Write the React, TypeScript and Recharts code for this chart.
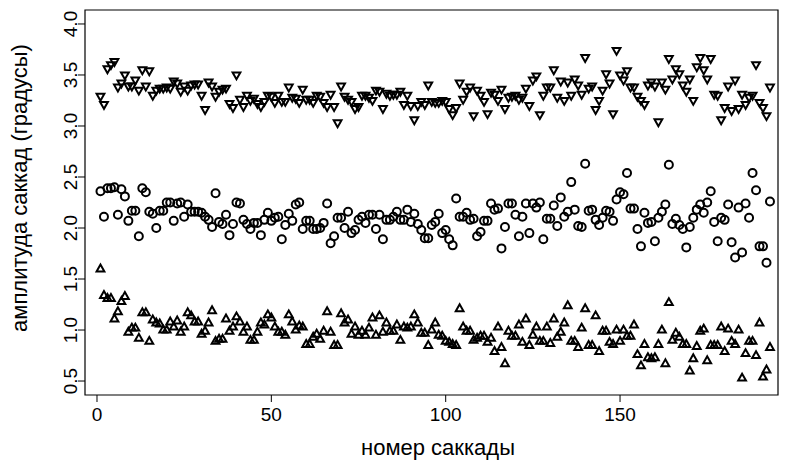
import React from 'react';
import { ScatterChart, Scatter, XAxis, YAxis, ReferenceArea, Label } from 'recharts';

// saccade amplitudes (degrees), one value per saccade number 1..193
const downTri = [
  3.29, 3.21, 3.56, 3.60, 3.63, 3.38, 3.42, 3.50, 3.39, 3.39,
  3.45, 3.35, 3.55, 3.39, 3.54, 3.30, 3.35, 3.37, 3.37, 3.38,
  3.37, 3.44, 3.42, 3.34, 3.39, 3.35, 3.40, 3.41, 3.41, 3.30,
  3.16, 3.43, 3.39, 3.29, 3.34, 3.36, 3.37, 3.22, 3.18, 3.50,
  3.26, 3.19, 3.30, 3.25, 3.27, 3.22, 3.19, 3.24,
  3.30, 3.29, 3.23, 3.30, 3.24, 3.24, 3.38, 3.28, 3.27, 3.23,
  3.36, 3.26, 3.26, 3.23, 3.30, 3.29, 3.23, 3.19, 3.31, 3.19,
  3.03, 3.39, 3.29, 3.26, 3.24, 3.17, 3.19, 3.30, 3.30, 3.28,
  3.25, 3.35, 3.34, 3.17, 3.32, 3.30, 3.31, 3.31, 3.34, 3.21,
  3.30, 3.20, 3.06, 3.20, 3.24, 3.21, 3.40, 3.24, 3.23,
  3.23, 3.25, 3.24, 3.17, 3.11, 3.18, 3.42, 3.26, 3.34, 3.38,
  3.10, 3.35, 3.30, 3.24, 3.12, 3.33, 3.31, 3.25, 3.36, 3.17,
  3.28, 3.29, 3.30, 3.26, 3.28, 3.37, 3.20, 3.45, 3.49, 3.11,
  3.30, 3.38, 3.38, 3.55, 3.28, 3.44, 3.25, 3.43, 3.30, 3.46,
  3.40, 3.31, 3.67, 3.37, 3.39, 3.16, 3.25, 3.35, 3.51, 3.42, 3.12, 3.74,
  3.50, 3.45, 3.54, 3.38, 3.38, 3.29, 3.25, 3.21, 3.40, 3.43,
  3.39, 3.04, 3.43, 3.36, 3.66, 3.46, 3.56, 3.51, 3.40, 3.34,
  3.46, 3.25, 3.58, 3.67, 3.55, 3.46, 3.66, 3.31, 3.30, 3.06,
  3.18, 3.39, 3.15, 3.45, 3.17, 3.31, 3.21, 3.28, 3.30, 3.60,
  3.23, 3.18, 3.10, 3.38,
];

const circles = [
  2.36, 2.11, 2.39, 2.39, 2.40, 2.13, 2.38, 2.31, 2.07, 2.17,
  2.17, 1.92, 2.39, 2.35, 2.16, 2.14, 2.00, 2.17, 2.17, 2.25,
  2.25, 2.07, 2.24, 2.25, 2.11, 2.23, 2.16, 2.16, 2.16, 2.15,
  2.11, 2.08, 2.01, 2.34, 2.06, 2.04, 2.13, 1.93, 2.04, 2.25,
  2.24, 2.08, 2.04, 1.99, 2.05, 2.05, 1.93, 2.08,
  2.15, 2.07, 2.10, 2.11, 1.89, 2.03, 2.14, 2.07, 2.23, 2.25,
  1.99, 2.07, 2.07, 1.99, 1.99, 2.00, 2.05, 2.24, 1.85, 1.92,
  2.10, 2.10, 2.00, 2.16, 1.95, 1.98, 2.08, 2.11, 2.05, 2.13,
  2.13, 1.99, 2.13, 1.89, 2.08, 2.08, 2.11, 2.16, 2.08, 2.08,
  2.18, 2.06, 2.14, 2.04, 1.98, 1.90, 1.90, 2.03, 2.06, 2.14,
  1.95, 1.98, 1.89, 1.83, 2.29, 2.11, 2.11, 2.15, 2.08, 2.09,
  1.92, 1.96, 2.07, 2.07, 2.24, 2.18, 2.19, 1.80, 2.01, 2.24,
  2.24, 2.13, 1.92, 2.11, 2.24, 1.95, 2.24, 2.20, 2.25, 1.89,
  2.09, 2.09, 2.22, 2.02, 2.30, 2.11, 2.16, 2.45, 2.18, 2.02,
  2.01, 2.63, 2.17, 2.18, 2.08, 2.03, 2.10, 2.17, 2.16, 2.07,
  2.28, 2.35, 2.33, 2.54, 2.19, 2.19, 1.99, 1.82, 2.15, 2.05,
  2.06, 1.87, 2.10, 2.16, 2.23, 2.62, 2.04, 2.09, 2.03, 1.99,
  1.81, 2.01, 2.10, 2.18, 2.23, 2.15, 2.25, 2.36, 2.06, 1.87,
  2.10, 2.08, 2.23, 1.86, 1.71, 2.20, 1.76, 2.24, 2.10, 2.54,
  2.37, 1.82, 1.82, 1.66, 2.26,
];

const upTri = [
  1.60, 1.34, 1.31, 1.31, 1.11, 1.18, 1.28, 1.33, 0.98, 1.02,
  1.02, 0.92, 1.17, 1.17, 0.89, 1.10, 1.07, 1.06, 1.00, 1.00,
  1.08, 1.03, 1.09, 0.98, 1.03, 1.17, 1.14, 1.08, 1.08, 0.96,
  0.99, 1.07, 1.19, 0.89, 0.91, 0.91, 1.11, 0.99, 1.03, 1.13,
  1.08, 0.98, 1.03, 0.90, 0.90, 0.98, 1.07, 1.05,
  1.15, 1.12, 1.03, 0.98, 0.98, 0.95, 1.15, 1.08, 1.00, 1.04,
  1.03, 0.86, 0.86, 0.93, 0.96, 0.91, 0.99, 1.18, 0.98, 0.85,
  0.85, 1.16, 1.07, 1.10, 0.96, 1.03, 0.95, 0.99, 0.95, 1.02,
  1.12, 0.95, 1.14, 0.98, 1.07, 0.99, 0.99, 1.05, 0.90, 1.03,
  1.02, 1.03, 1.15, 1.07, 0.97, 0.97, 0.85, 1.00, 1.07, 0.95,
  0.94, 0.89, 0.88, 0.86, 0.85, 1.21, 1.03, 0.99, 0.99, 0.90,
  0.92, 0.94, 0.94, 0.88, 0.92, 0.79, 1.03, 0.83, 0.67, 0.99,
  0.94, 0.94, 1.05, 0.88, 1.11, 0.85, 0.95, 1.03, 0.89, 0.89,
  1.03, 0.87, 1.11, 0.93, 0.98, 1.07, 1.24, 0.89, 0.89, 0.83,
  1.02, 1.21, 0.85, 0.85, 1.14, 0.79, 0.99, 0.99, 0.88, 0.86,
  1.00, 0.89, 1.00, 0.94, 0.94, 1.05, 0.76, 0.65, 0.86, 0.73,
  0.72, 0.73, 0.86, 1.00, 0.67, 1.27, 0.90, 0.97, 0.93, 0.86,
  0.86, 0.60, 0.72, 0.84, 0.99, 1.01, 0.70, 0.85, 0.85, 0.85,
  1.03, 0.79, 1.01, 0.89, 0.86, 1.00, 0.53, 0.77, 0.89, 0.89,
  0.75, 1.07, 0.54, 0.61, 0.83,
];

const xTicks = [0, 50, 100, 150];
const yTicks = [0.5, 1.0, 1.5, 2.0, 2.5, 3.0, 3.5, 4.0];

const X_DOMAIN: [number, number] = [-3.44, 195.3];
const Y_DOMAIN: [number, number] = [0.363, 4.137];

const FONT = '"Liberation Sans", Arial, sans-serif';

const toPoints = (vals: number[]) => vals.map((y, i) => ({ x: i + 1, y }));

const Circle = (props: any) => (
  <circle cx={props.cx} cy={props.cy} r={4} fill="none" stroke="#000" strokeWidth={2} />
);

const TriUp = (props: any) => {
  const { cx, cy } = props;
  return (
    <polygon
      points={`${cx},${cy - 4.3} ${cx - 3.9},${cy + 2.6} ${cx + 3.9},${cy + 2.6}`}
      fill="none" stroke="#000" strokeWidth={2} strokeLinejoin="miter"
    />
  );
};

const TriDown = (props: any) => {
  const { cx, cy } = props;
  return (
    <polygon
      points={`${cx},${cy + 4.3} ${cx - 3.9},${cy - 2.6} ${cx + 3.9},${cy - 2.6}`}
      fill="none" stroke="#000" strokeWidth={2} strokeLinejoin="miter"
    />
  );
};

const XTick = ({ x, y, payload }: any) => (
  <text x={x} y={y + 17} textAnchor="middle" fontFamily={FONT} fontSize={19} fill="#000">
    {payload.value}
  </text>
);

const YTick = ({ y, payload }: any) => (
  <text x={77} y={y} transform={`rotate(-90, 77, ${y})`} textAnchor="middle"
    fontFamily={FONT} fontSize={19} fill="#000">
    {payload.value.toFixed(1)}
  </text>
);

export default function App() {
  return (
    <div style={{ position: 'absolute', left: 0, top: 0, background: '#fff' }}>
      <ScatterChart width={789} height={462} margin={{ top: 10, right: 11, left: 0, bottom: 0 }}>
        <XAxis type="number" dataKey="x" domain={X_DOMAIN} ticks={xTicks} allowDataOverflow
          height={67} axisLine={false} tickSize={7} tickLine={{ stroke: '#000' }} tick={<XTick />}>
          <Label content={() => (
            <text x={438} y={455} textAnchor="middle" fontFamily={FONT} fontSize={22} fill="#000">
              номер саккады
            </text>
          )} />
        </XAxis>
        <YAxis type="number" dataKey="y" domain={Y_DOMAIN} ticks={yTicks} allowDataOverflow
          width={85} axisLine={false} tickSize={7} tickLine={{ stroke: '#000' }} tick={<YTick />}>
          <Label content={() => (
            <text x={27} y={188} transform="rotate(-90, 27, 188)" textAnchor="middle"
              fontFamily={FONT} fontSize={22} fill="#000">
              амплитуда саккад (градусы)
            </text>
          )} />
        </YAxis>
        <ReferenceArea x1={X_DOMAIN[0]} x2={X_DOMAIN[1]} y1={Y_DOMAIN[0]} y2={Y_DOMAIN[1]}
          fill="none" stroke="#000" strokeWidth={1.2} fillOpacity={0} />
        <Scatter data={toPoints(downTri)} shape={<TriDown />} isAnimationActive={false} />
        <Scatter data={toPoints(circles)} shape={<Circle />} isAnimationActive={false} />
        <Scatter data={toPoints(upTri)} shape={<TriUp />} isAnimationActive={false} />
      </ScatterChart>
    </div>
  );
}
